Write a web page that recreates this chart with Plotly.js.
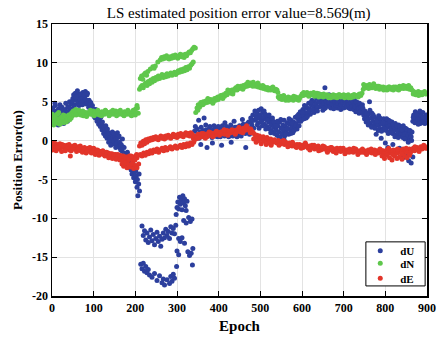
<!DOCTYPE html>
<html><head><meta charset="utf-8">
<script src="https://cdn.plot.ly/plotly-3.0.1.min.js"></script>
<style>html,body{margin:0;padding:0;background:#fff;}#chart{width:442px;height:340px;}</style>
</head><body><div id="chart"></div>
<script>
// ---- dU (blue) ----
const dU_epoch = [0,2,4,6,8,10,12,14,16,18,20,22,24,26,28,30,32,34,36,38,40,42,44,46,48,50,52,54,56,58,60,62,64,66,68,70,72,74,76,78,80,82,84,86,88,90,92,94,96,98,100,102,104,106,108,110,112,114,116,118,120,122,124,126,128,130,132,134,136,138,140,142,144,146,148,150,152,154,156,158,160,162,164,166,168,170,172,174,176,178,180,182,184,186,188,190,192,194,196,198,200,202,204,206,208,210,
3,7,11,15,19,23,27,33,37,41,45,49,53,57,61,65,69,73,77,81,85,89,93,97,101,105,109,113,117,121,125,129,133,137,141,145,149,153,157,161,165,169,173,177,181,185,189,193,197,201,205,209,
216,219,222,225,228,231,234,237,240,243,246,249,252,255,258,261,264,267,270,273,276,279,282,285,288,291,294,297,
213,216,219,222,225,228,231,234,240,246,252,258,264,267,270,276,282,285,288,291,294,
298,300,302,304,306,308,310,312,314,316,318,320,322,324,316,322,328,332,336,304,308,312,318,300,304,326,330,334,338,337,299,
342,345,348,350,352,355,357,360,362,365,367,370,372,375,377,380,382,385,387,390,392,395,397,400,402,405,407,410,412,415,417,420,422,425,427,430,432,435,437,440,442,445,447,450,452,455,457,460,462,465,467,470,472,475,477,480,482,485,487,490,
344,353,358,364,369,374,379,384,389,394,399,404,409,414,419,424,429,434,439,444,449,454,459,464,469,474,479,484,489,
492,494,496,498,500,502,504,506,508,510,512,514,516,518,520,522,524,526,528,530,532,534,536,538,540,542,544,546,548,550,552,554,556,558,560,562,564,566,568,570,572,574,576,578,580,582,584,586,588,590,592,594,596,598,551,557,
493,497,501,505,509,513,517,521,525,529,533,537,541,545,549,553,557,561,565,569,573,577,581,585,589,593,597,
600,602,604,606,608,610,612,614,616,618,620,622,624,626,628,630,632,634,636,638,640,642,644,646,648,650,655,
601,605,609,613,617,621,625,629,633,637,641,645,649,653,657,661,665,669,673,677,681,685,689,693,697,701,705,709,713,717,721,725,729,733,737,741,745,
652,654,656,658,660,662,664,666,668,670,672,674,676,678,680,682,684,686,688,690,692,694,696,698,700,702,704,706,708,710,712,714,716,718,720,722,724,726,728,730,732,734,736,738,740,742,744,746,
748,750,752,754,756,758,760,762,764,766,768,770,772,774,776,778,780,782,784,786,788,790,792,794,796,
798,800,802,804,806,808,810,812,814,816,818,820,822,824,826,828,830,832,834,836,838,840,842,844,846,848,850,852,854,856,858,860,862,864,
800,806,812,818,826,834,842,848,856,862,866,
751,755,759,763,767,771,775,779,783,787,791,795,799,803,807,811,815,819,823,827,831,835,839,843,847,851,855,859,863,
866,868,870,872,874,876,878,880,882,884,886,888,890,892,894,896,898,
867,871,875,879,883,887,891,895,899];
const dU_value = [3.5,4.2,2.9,3.8,4.5,3.2,2.4,3.9,4.1,3.0,2.6,3.6,4.3,3.1,2.2,3.4,4.0,2.8,3.7,4.4,3.3,5.0,4.1,4.7,3.9,5.4,5.9,4.6,6.1,5.2,5.7,4.8,6.0,5.3,5.8,4.9,5.5,6.2,5.1,5.6,6.3,4.7,5.9,5.0,4.3,4.8,3.9,4.4,3.6,4.1,3.4,3.8,2.9,3.3,2.5,3.0,2.1,2.6,1.8,2.2,1.4,1.9,0.9,1.5,0.6,1.2,0.3,0.9,-0.2,0.5,0.1,0.8,-0.4,0.3,-0.1,0.6,-0.5,0.2,-0.3,0.4,-0.7,-0.2,-1.0,-0.5,-1.3,-0.8,-1.6,-2.4,-1.9,-2.8,-2.2,-3.1,-2.6,-3.5,-3.0,-3.8,-4.3,-3.4,-4.8,-4.1,-5.3,-4.6,-6.0,-7.1,-5.6,-6.5,
2.5,4.8,3.6,2.0,4.6,2.9,3.9,4.8,2.5,4.3,3.5,5.1,4.4,5.6,6.4,4.5,6.0,4.6,5.9,5.3,6.1,5.2,4.9,4.5,3.1,4.0,3.5,2.8,3.0,2.4,1.7,1.9,1.5,1.0,-0.6,1.1,0.9,-0.9,1.0,0.6,-1.2,0.2,-0.9,-2.0,-1.5,-2.0,-2.5,-2.8,-3.6,-3.9,-5.0,-4.3,
-11.0,-12.2,-11.6,-12.8,-11.9,-13.1,-12.4,-11.5,-12.9,-12.1,-13.4,-12.6,-11.8,-13.0,-12.3,-13.6,-12.7,-11.9,-12.5,-11.4,-12.2,-11.7,-12.6,-11.1,-11.9,-11.3,-12.0,-10.9,
-15.9,-16.5,-15.8,-16.8,-16.2,-17.0,-16.6,-17.3,-17.6,-17.1,-18.0,-17.4,-18.3,-17.8,-18.6,-17.9,-18.4,-17.5,-18.1,-17.2,-17.7,
-9.5,-8.6,-7.9,-8.8,-7.3,-8.2,-7.6,-8.9,-7.1,-8.0,-7.5,-8.4,-9.0,-7.8,-10.3,-10.6,-9.9,-10.4,-10.1,-12.6,-13.0,-12.5,-13.2,-14.2,-14.7,-14.3,-14.8,-14.5,-13.9,-16.0,-16.2,
1.2,0.4,1.5,0.8,2.6,1.1,-0.5,0.6,1.3,2.9,0.9,1.4,-0.9,1.0,1.5,0.7,1.2,-0.3,1.4,0.9,1.6,1.1,0.5,1.3,0.8,1.5,-0.6,1.0,1.4,2.3,0.7,1.2,1.6,0.9,1.3,-0.2,1.5,1.0,2.5,1.2,1.7,0.8,1.4,1.9,1.1,1.6,2.7,1.3,1.8,-0.9,1.2,1.7,2.4,1.4,2.9,2.0,3.3,2.6,3.8,2.8,
1.8,0.3,1.7,0.5,2.0,0.8,1.8,0.4,1.9,0.6,1.8,0.5,1.9,0.6,1.8,0.5,2.0,0.6,1.7,0.5,1.2,0.6,2.1,0.9,2.2,0.8,2.5,1.6,3.2,
3.5,2.3,3.9,2.9,3.3,4.1,2.6,3.6,3.0,2.1,3.4,2.7,1.8,3.1,2.4,1.5,2.8,2.0,1.2,2.5,1.7,0.9,2.2,1.4,0.7,1.9,1.1,2.4,0.5,1.6,0.9,2.0,1.3,0.6,1.8,1.1,2.3,1.5,0.8,2.1,1.4,2.6,1.7,1.0,2.4,1.8,3.0,2.2,1.5,2.8,3.4,2.5,3.7,3.1,-0.2,0.1,
2.0,1.6,2.4,1.9,3.8,1.5,2.6,3.3,1.0,2.9,2.4,1.9,2.5,0.4,2.7,1.5,2.6,0.8,1.6,2.8,0.9,2.2,1.3,2.0,3.2,1.9,2.5,
2.7,4.0,3.3,4.5,3.6,2.9,4.2,3.5,4.8,4.1,3.4,4.6,5.2,3.9,4.4,5.0,4.0,4.7,5.4,4.3,6.0,4.9,4.4,5.3,4.6,3.9,6.8,
3.6,2.8,4.4,3.1,3.8,4.9,4.0,3.6,5.6,3.8,5.0,5.9,5.1,4.1,4.4,5.2,5.9,4.2,5.5,4.6,5.2,4.2,5.6,4.0,5.6,4.8,4.3,5.6,4.2,5.4,4.8,5.3,3.7,4.9,3.5,4.1,4.6,
4.8,5.5,4.2,5.1,4.6,5.7,4.9,4.4,5.3,5.8,4.7,5.2,4.1,5.0,5.6,4.5,5.1,4.8,5.4,4.3,5.0,4.6,5.3,4.9,4.2,5.2,4.7,5.5,4.4,5.0,4.6,5.3,4.1,4.8,4.4,5.1,4.0,4.7,4.3,5.0,3.8,4.5,4.1,4.8,3.7,4.4,3.6,4.2,
3.3,2.8,3.6,2.4,3.1,2.6,3.4,5.0,2.2,2.9,3.5,2.5,1.9,3.0,2.3,0.8,2.7,2.0,3.2,1.6,2.4,0.3,2.1,1.5,2.8,
1.9,2.5,1.3,2.2,1.7,2.6,1.1,2.0,1.5,2.4,0.9,1.8,1.3,2.2,0.7,1.6,1.1,2.0,0.6,1.4,0.9,1.8,0.4,1.2,0.8,1.6,0.3,1.0,0.6,1.3,0.2,0.9,0.5,1.1,
-0.3,-0.9,-1.3,-0.5,-1.6,-1.0,-2.2,-1.8,-2.6,-2.9,-2.1,
3.8,3.5,2.0,3.9,1.7,3.3,1.6,2.5,1.3,2.9,1.2,2.3,1.5,2.8,0.9,2.5,1.0,2.1,0.5,1.9,0.4,1.8,1.4,1.9,0.2,1.5,-0.2,1.3,0.0,
2.5,3.3,2.8,3.7,2.4,3.1,2.6,3.5,2.9,2.2,3.2,2.7,3.6,2.3,3.0,2.5,3.3,
3.0,2.3,3.4,2.1,3.8,2.4,3.0,2.2,3.1];

// ---- dN (green) ----
const dN_epoch = [0,3,6,9,12,15,18,21,24,27,30,33,36,39,42,45,48,51,54,57,60,63,66,69,72,75,78,81,84,87,90,93,96,99,102,105,108,111,114,117,120,123,126,129,132,135,138,141,144,147,150,153,156,159,162,165,168,171,174,177,180,183,186,189,192,195,198,201,204,207,
1,4,7,10,13,16,19,22,25,28,31,34,37,40,43,46,49,52,55,58,
65,74,83,92,101,110,119,128,137,146,155,164,173,182,191,200,205,
210,213,216,219,222,225,228,231,234,237,240,243,246,249,252,255,258,261,264,267,270,273,276,279,282,285,288,291,294,297,300,303,306,309,312,315,318,321,324,327,330,333,336,339,
212,215,218,221,224,227,230,236,242,245,248,254,260,263,266,269,272,275,278,281,284,287,290,293,296,299,302,305,308,311,314,317,320,323,326,329,332,335,338,341,344,
345,348,351,354,357,360,363,366,369,372,375,378,381,384,387,390,393,396,399,402,405,408,411,414,417,420,423,426,429,432,435,438,441,444,447,450,453,456,459,462,465,468,471,474,477,480,483,486,489,492,495,498,501,504,507,510,513,516,519,522,525,528,531,534,537,540,
543,546,549,552,555,558,561,564,567,570,573,576,579,582,585,588,591,594,597,
600,603,606,609,612,615,618,621,624,627,630,633,636,639,642,645,648,651,654,657,660,663,666,669,672,675,678,681,684,687,690,693,696,699,702,705,708,711,714,717,720,723,726,729,732,735,738,741,744,
747,750,753,756,759,762,765,768,771,774,777,780,783,786,789,792,795,798,801,804,807,810,813,816,819,822,825,828,831,834,837,840,843,846,849,852,855,858,861,864,
867,870,873,876,879,882,885,888,891,894,897,
350,362,374,386,398,410,422,434,446,458,470,482,494,506,518,530,542,556,568,580,592,604,616,628,640,652,664,676,688,700,712,724,736,748,760,772,784,796,808,820,832,844,856,868,880,892];
const dN_value = [2.6,3.2,2.4,2.9,3.4,2.2,2.8,3.0,2.5,3.3,2.7,2.9,3.1,2.6,3.0,3.4,3.6,3.8,3.5,4.0,3.7,3.4,3.6,3.3,3.5,3.2,3.4,3.6,3.3,3.5,3.7,3.4,3.6,3.8,3.5,3.7,3.4,3.6,3.3,3.5,3.7,3.6,3.4,3.8,3.5,3.6,3.3,3.7,3.5,3.4,3.6,3.8,3.5,3.7,3.4,3.6,3.5,3.3,3.7,3.6,3.4,3.8,3.5,3.3,3.6,3.9,3.7,4.1,4.5,3.5,
3.4,2.0,3.0,2.3,2.6,3.6,2.1,2.4,3.0,2.3,3.2,2.4,2.8,3.3,2.7,2.9,3.2,3.4,3.8,3.3,
3.9,3.8,3.1,3.9,3.2,3.9,3.2,3.9,3.2,3.9,3.2,3.9,3.2,3.9,3.2,3.3,4.2,
6.6,6.9,7.1,6.8,7.2,7.4,7.1,7.6,7.3,7.8,7.5,8.0,7.7,8.1,7.9,8.3,8.0,8.2,8.5,8.1,8.4,8.2,8.6,8.3,8.5,8.7,8.4,8.6,8.8,8.5,8.7,9.0,8.8,9.1,8.9,9.2,9.0,9.4,9.1,9.5,9.3,9.7,9.9,10.1,
8.0,8.3,7.9,8.5,8.7,8.4,8.9,9.2,9.5,9.3,9.6,10.1,10.4,10.7,10.5,10.8,10.6,10.9,10.7,10.5,10.8,10.6,10.9,10.7,11.0,10.8,10.6,10.9,11.1,10.8,11.0,10.7,11.1,10.9,11.2,11.4,11.3,11.6,11.8,12.0,11.9,
3.6,4.2,4.6,4.3,4.9,4.6,5.0,4.8,5.1,4.9,5.2,5.0,5.3,5.1,5.0,5.4,5.2,5.5,5.3,5.6,5.8,5.5,5.9,5.7,6.1,5.9,6.2,6.4,6.1,6.5,6.3,6.6,6.8,6.5,6.9,6.7,7.0,6.8,7.1,6.9,7.2,7.0,7.3,7.1,7.4,7.2,7.5,7.2,7.0,7.2,6.9,7.1,6.8,7.0,6.7,6.9,6.6,6.8,6.5,6.7,6.5,6.8,6.6,6.4,6.6,6.5,
5.6,5.4,5.7,5.3,5.5,5.6,5.2,5.4,5.6,5.3,5.5,5.4,5.2,5.5,5.6,5.3,5.5,5.4,5.7,
6.0,5.8,6.1,5.9,6.2,6.0,5.8,6.1,5.9,6.0,5.7,5.9,6.1,5.8,6.0,5.7,5.9,5.6,5.8,5.7,5.9,5.6,5.8,5.5,5.7,5.9,5.6,5.8,5.5,5.7,5.9,5.6,5.8,5.7,5.5,5.8,5.6,5.9,5.7,5.5,5.8,5.6,5.9,5.7,5.8,5.6,6.0,5.8,6.1,
6.6,7.0,6.8,7.1,6.9,7.2,7.0,6.8,7.1,6.9,6.7,7.0,6.8,6.6,6.9,6.7,6.9,6.6,6.8,6.5,6.7,6.9,6.6,6.8,6.5,6.7,6.9,6.6,6.8,7.0,6.7,6.9,7.1,6.8,7.0,6.7,6.9,6.6,6.8,6.5,
6.0,6.2,5.9,6.1,6.3,6.0,6.2,5.9,6.1,6.3,6.0,
3.9,4.6,5.4,4.8,5.6,5.4,6.5,6.0,7.0,6.6,7.5,7.0,7.4,7.1,6.8,6.9,6.2,5.8,5.2,5.7,5.2,6.2,5.7,6.2,5.6,6.0,5.5,5.6,5.9,5.9,5.5,5.9,5.9,7.2,6.7,7.3,7.0,6.5,6.9,6.9,6.5,6.7,7.1,6.3,5.8,6.2];

// ---- dE (red) ----
const dE_epoch = [0,3,6,9,12,15,18,21,24,27,30,33,36,39,42,45,48,51,54,57,60,63,66,69,72,75,78,81,84,87,90,93,96,99,102,105,108,111,114,117,120,123,126,129,132,135,138,141,144,147,150,153,156,159,162,165,168,171,174,177,180,183,186,189,192,195,198,201,204,207,
1,5,10,14,19,23,28,32,37,41,46,50,55,59,64,68,73,77,82,86,91,95,100,104,109,113,118,122,127,131,136,140,145,149,154,158,163,167,172,176,181,185,190,194,199,203,
168,172,176,180,184,188,192,196,200,204,208,44,
210,213,216,219,222,225,228,231,234,237,240,243,246,249,252,255,258,261,264,267,270,273,276,279,282,285,288,291,294,297,300,303,306,309,312,315,318,321,324,327,330,333,336,
212,216,220,224,228,232,236,240,244,248,252,256,260,264,268,272,276,280,284,288,292,296,300,304,308,312,316,320,324,328,332,336,340,
339,342,345,348,351,354,357,360,363,366,369,372,375,378,381,384,387,390,393,396,399,402,405,408,411,414,417,420,423,426,429,432,435,438,441,444,447,450,453,456,459,462,465,468,471,474,477,480,483,
341,350,359,368,377,386,395,404,413,422,431,440,449,458,467,476,
486,489,492,495,498,501,504,507,510,513,516,519,522,525,528,531,534,537,540,543,546,549,552,555,558,561,564,567,570,573,576,579,582,585,588,591,594,597,600,603,606,609,612,615,618,621,624,627,630,633,636,639,642,645,648,651,654,657,660,663,666,669,672,675,678,681,684,687,690,693,696,699,702,705,708,711,714,717,720,723,726,729,732,735,738,741,744,747,750,753,756,759,762,765,768,771,774,777,780,783,786,789,792,795,798,801,804,807,810,813,816,819,822,825,828,831,834,837,840,843,846,849,852,855,858,861,864,867,870,873,876,879,882,885,888,891,894,897,
545,556,566,577,587,598,608,619,629,640,650,661,671,682,692,703,713,724,734,745,755,766,776,787,797,808,818,829,839,850,860,871,881,892,
484,490,496,502,508,514,520,526,
792,798,804,810,816,822,828,834,840,846,852,858];
const dE_value = [-0.6,-1.0,-0.7,-0.4,-0.9,-0.6,-1.1,-0.8,-0.5,-0.9,-0.7,-1.0,-0.6,-0.9,-1.2,-0.8,-1.0,-0.7,-1.1,-0.9,-1.2,-0.8,-1.0,-1.3,-1.0,-1.2,-0.9,-1.1,-1.4,-1.0,-1.2,-1.5,-1.1,-1.3,-1.6,-1.2,-1.5,-1.3,-1.7,-1.4,-1.6,-1.8,-1.5,-1.7,-1.9,-1.6,-1.8,-2.0,-1.7,-1.9,-2.1,-1.8,-2.0,-2.2,-1.9,-2.1,-2.3,-2.0,-2.2,-2.4,-2.1,-2.3,-2.0,-2.2,-2.4,-2.1,-2.3,-2.0,-2.2,-1.9,
-1.2,-0.3,-1.3,-0.8,-0.4,-1.4,-0.6,-1.3,-0.8,-0.5,-1.3,-1.1,-0.6,-1.4,-1.1,-0.7,-1.5,-1.0,-1.6,-1.2,-0.9,-1.6,-1.0,-1.8,-1.2,-1.9,-1.6,-1.3,-2.0,-1.5,-2.2,-1.7,-2.3,-1.8,-2.4,-1.8,-2.5,-2.0,-2.6,-2.1,-2.7,-2.4,-2.0,-2.7,-2.5,-1.8,
-3.0,-3.3,-2.9,-3.5,-3.1,-3.4,-3.0,-3.6,-3.2,-3.5,-3.0,-2.0,
-0.7,-0.3,-0.6,-0.1,-0.4,0.1,-0.2,0.2,0.0,0.3,0.1,0.4,0.2,0.5,0.3,0.1,0.4,0.6,0.3,0.5,0.2,0.6,0.4,0.7,0.5,0.3,0.6,0.8,0.5,0.7,0.4,0.8,0.6,0.9,0.7,0.5,0.8,1.0,0.7,0.9,0.6,1.0,0.8,
-1.8,-2.0,-1.6,-1.9,-1.5,-1.7,-1.3,-1.6,-1.2,-1.4,-1.1,-1.5,-1.2,-1.0,-1.3,-0.9,-1.2,-1.0,-0.8,-1.1,-0.9,-0.7,-1.0,-0.8,-0.6,-0.9,-0.5,-0.8,-0.4,-0.7,-0.3,-0.5,-0.2,
0.3,0.6,0.2,0.5,0.8,0.4,0.7,0.5,0.9,0.6,0.8,0.5,0.9,0.7,1.0,0.6,0.9,0.7,1.1,0.8,1.0,0.7,1.1,0.9,1.2,0.8,1.0,1.3,0.9,1.2,1.0,1.4,1.1,1.3,1.0,1.4,1.2,1.5,1.1,1.4,1.6,1.3,1.7,1.4,1.6,1.3,1.5,1.2,1.0,
0.0,0.3,0.9,0.3,1.1,0.5,1.2,0.9,1.4,0.7,1.3,0.8,1.7,1.0,1.9,1.0,
0.8,0.5,0.7,0.3,0.6,0.4,0.2,0.5,0.3,0.1,0.4,0.2,-0.1,0.2,0.0,-0.2,0.1,-0.1,-0.3,0.0,-0.2,-0.4,-0.1,-0.3,-0.5,-0.2,-0.4,-0.6,-0.3,-0.5,-0.7,-0.4,-0.6,-0.8,-0.5,-0.7,-0.5,-0.8,-0.6,-0.9,-0.7,-0.5,-0.8,-1.0,-0.7,-0.9,-0.6,-0.9,-1.1,-0.8,-1.0,-0.7,-1.0,-1.2,-0.9,-1.1,-0.8,-1.1,-1.3,-1.0,-1.2,-0.9,-1.2,-1.4,-1.1,-1.3,-1.0,-1.3,-1.1,-1.4,-1.2,-1.0,-1.3,-1.5,-1.2,-1.4,-1.1,-1.4,-1.2,-1.5,-1.3,-1.1,-1.4,-1.6,-1.3,-1.5,-1.2,-1.5,-1.3,-1.6,-1.4,-1.2,-1.5,-1.3,-1.6,-1.4,-1.2,-1.5,-1.3,-1.6,-1.4,-1.2,-1.5,-1.3,-1.6,-1.4,-1.2,-1.5,-1.3,-1.6,-1.4,-1.2,-1.5,-1.3,-1.6,-1.4,-1.2,-1.5,-1.3,-1.1,-1.4,-1.2,-1.5,-1.3,-1.1,-1.4,-1.2,-1.0,-1.3,-1.1,-0.9,-1.2,-1.0,-0.8,-1.1,-0.9,-0.7,-1.0,
-0.6,0.0,-0.8,-0.2,-0.9,-1.0,-0.3,-1.2,-0.6,-1.3,-0.7,-1.5,-0.9,-1.6,-1.0,-1.7,-1.5,-1.0,-1.8,-1.1,-1.8,-1.1,-1.8,-1.1,-1.7,-1.0,-1.8,-1.1,-1.7,-1.0,-1.6,-0.8,-1.4,-0.6,
0.2,-0.2,0.0,-0.4,-0.1,-0.5,-0.3,-0.6,
-2.0,-2.3,-1.9,-2.2,-2.5,-2.0,-2.3,-2.1,-2.4,-2.0,-2.2,-1.9];

const seriesNames = ['dU', 'dN', 'dE'];
const xTickVals = [0,100,200,300,400,500,600,700,800,900];
const yTickVals = [15,10,5,0,-5,-10,-15,-20];
const yTickText = ['15','10','5','0','-5','-10','-15','-20'];

const serif = 'Liberation Serif, Times New Roman, serif';
const mk = (c) => ({size: 5, color: c, line: {width: 0}});

const traces = [
  {x: dU_epoch, y: dU_value, name: seriesNames[0], mode: 'markers', type: 'scatter', marker: mk('#2c3f9d'), legend: 'legend'},
  {x: dN_epoch, y: dN_value, name: seriesNames[1], mode: 'markers', type: 'scatter', marker: mk('#5fc74c'), legend: 'legend2'},
  {x: dE_epoch, y: dE_value, name: seriesNames[2], mode: 'markers', type: 'scatter', marker: mk('#e2352a'), legend: 'legend3'}
];

const axisCommon = {
  showline: true, linecolor: '#000', linewidth: 1.5, mirror: 'ticks',
  ticks: 'inside', ticklen: 5, tickwidth: 1, tickcolor: '#000',
  showgrid: true, gridcolor: '#e3e3e3', gridwidth: 1, zeroline: false,
  tickfont: {family: serif, size: 12, color: '#000', weight: 'bold'}
};

const legFont = {family: serif, size: 11, color: '#000', weight: 'bold'};
const legBase = (y) => ({x: 0.822, xanchor: 'left', y: y, yanchor: 'middle', bgcolor: 'rgba(0,0,0,0)', borderwidth: 0, font: legFont, itemwidth: 30});

const layout = {
  width: 442, height: 340,
  margin: {l: 52, r: 15, t: 24, b: 44},
  paper_bgcolor: '#fff', plot_bgcolor: '#fff',
  title: {text: 'LS estimated position error value=8.569(m)', font: {family: serif, size: 15, color: '#000'}, x: 0.54, xanchor: 'center', y: 0.963, yanchor: 'middle'},
  xaxis: Object.assign({}, axisCommon, {range: [0, 900], tickvals: xTickVals,
    title: {text: 'Epoch', font: {family: serif, size: 15, color: '#000', weight: 'bold'}, standoff: 6}}),
  yaxis: Object.assign({}, axisCommon, {range: [-20, 15], tickvals: yTickVals, ticktext: yTickText,
    title: {text: 'Position Error(m)', font: {family: serif, size: 13, color: '#000', weight: 'bold'}, standoff: 6}}),
  showlegend: true,
  legend: legBase(0.1665),
  legend2: legBase(0.120),
  legend3: legBase(0.065),
  shapes: [{type: 'rect', xref: 'paper', yref: 'paper', x0: 0.837, x1: 0.995, y0: 0.037, y1: 0.199,
    fillcolor: '#fff', line: {color: '#000', width: 1}, layer: 'above'}]
};

Plotly.newPlot('chart', traces, layout, {displayModeBar: false, staticPlot: true});
</script></body></html>
